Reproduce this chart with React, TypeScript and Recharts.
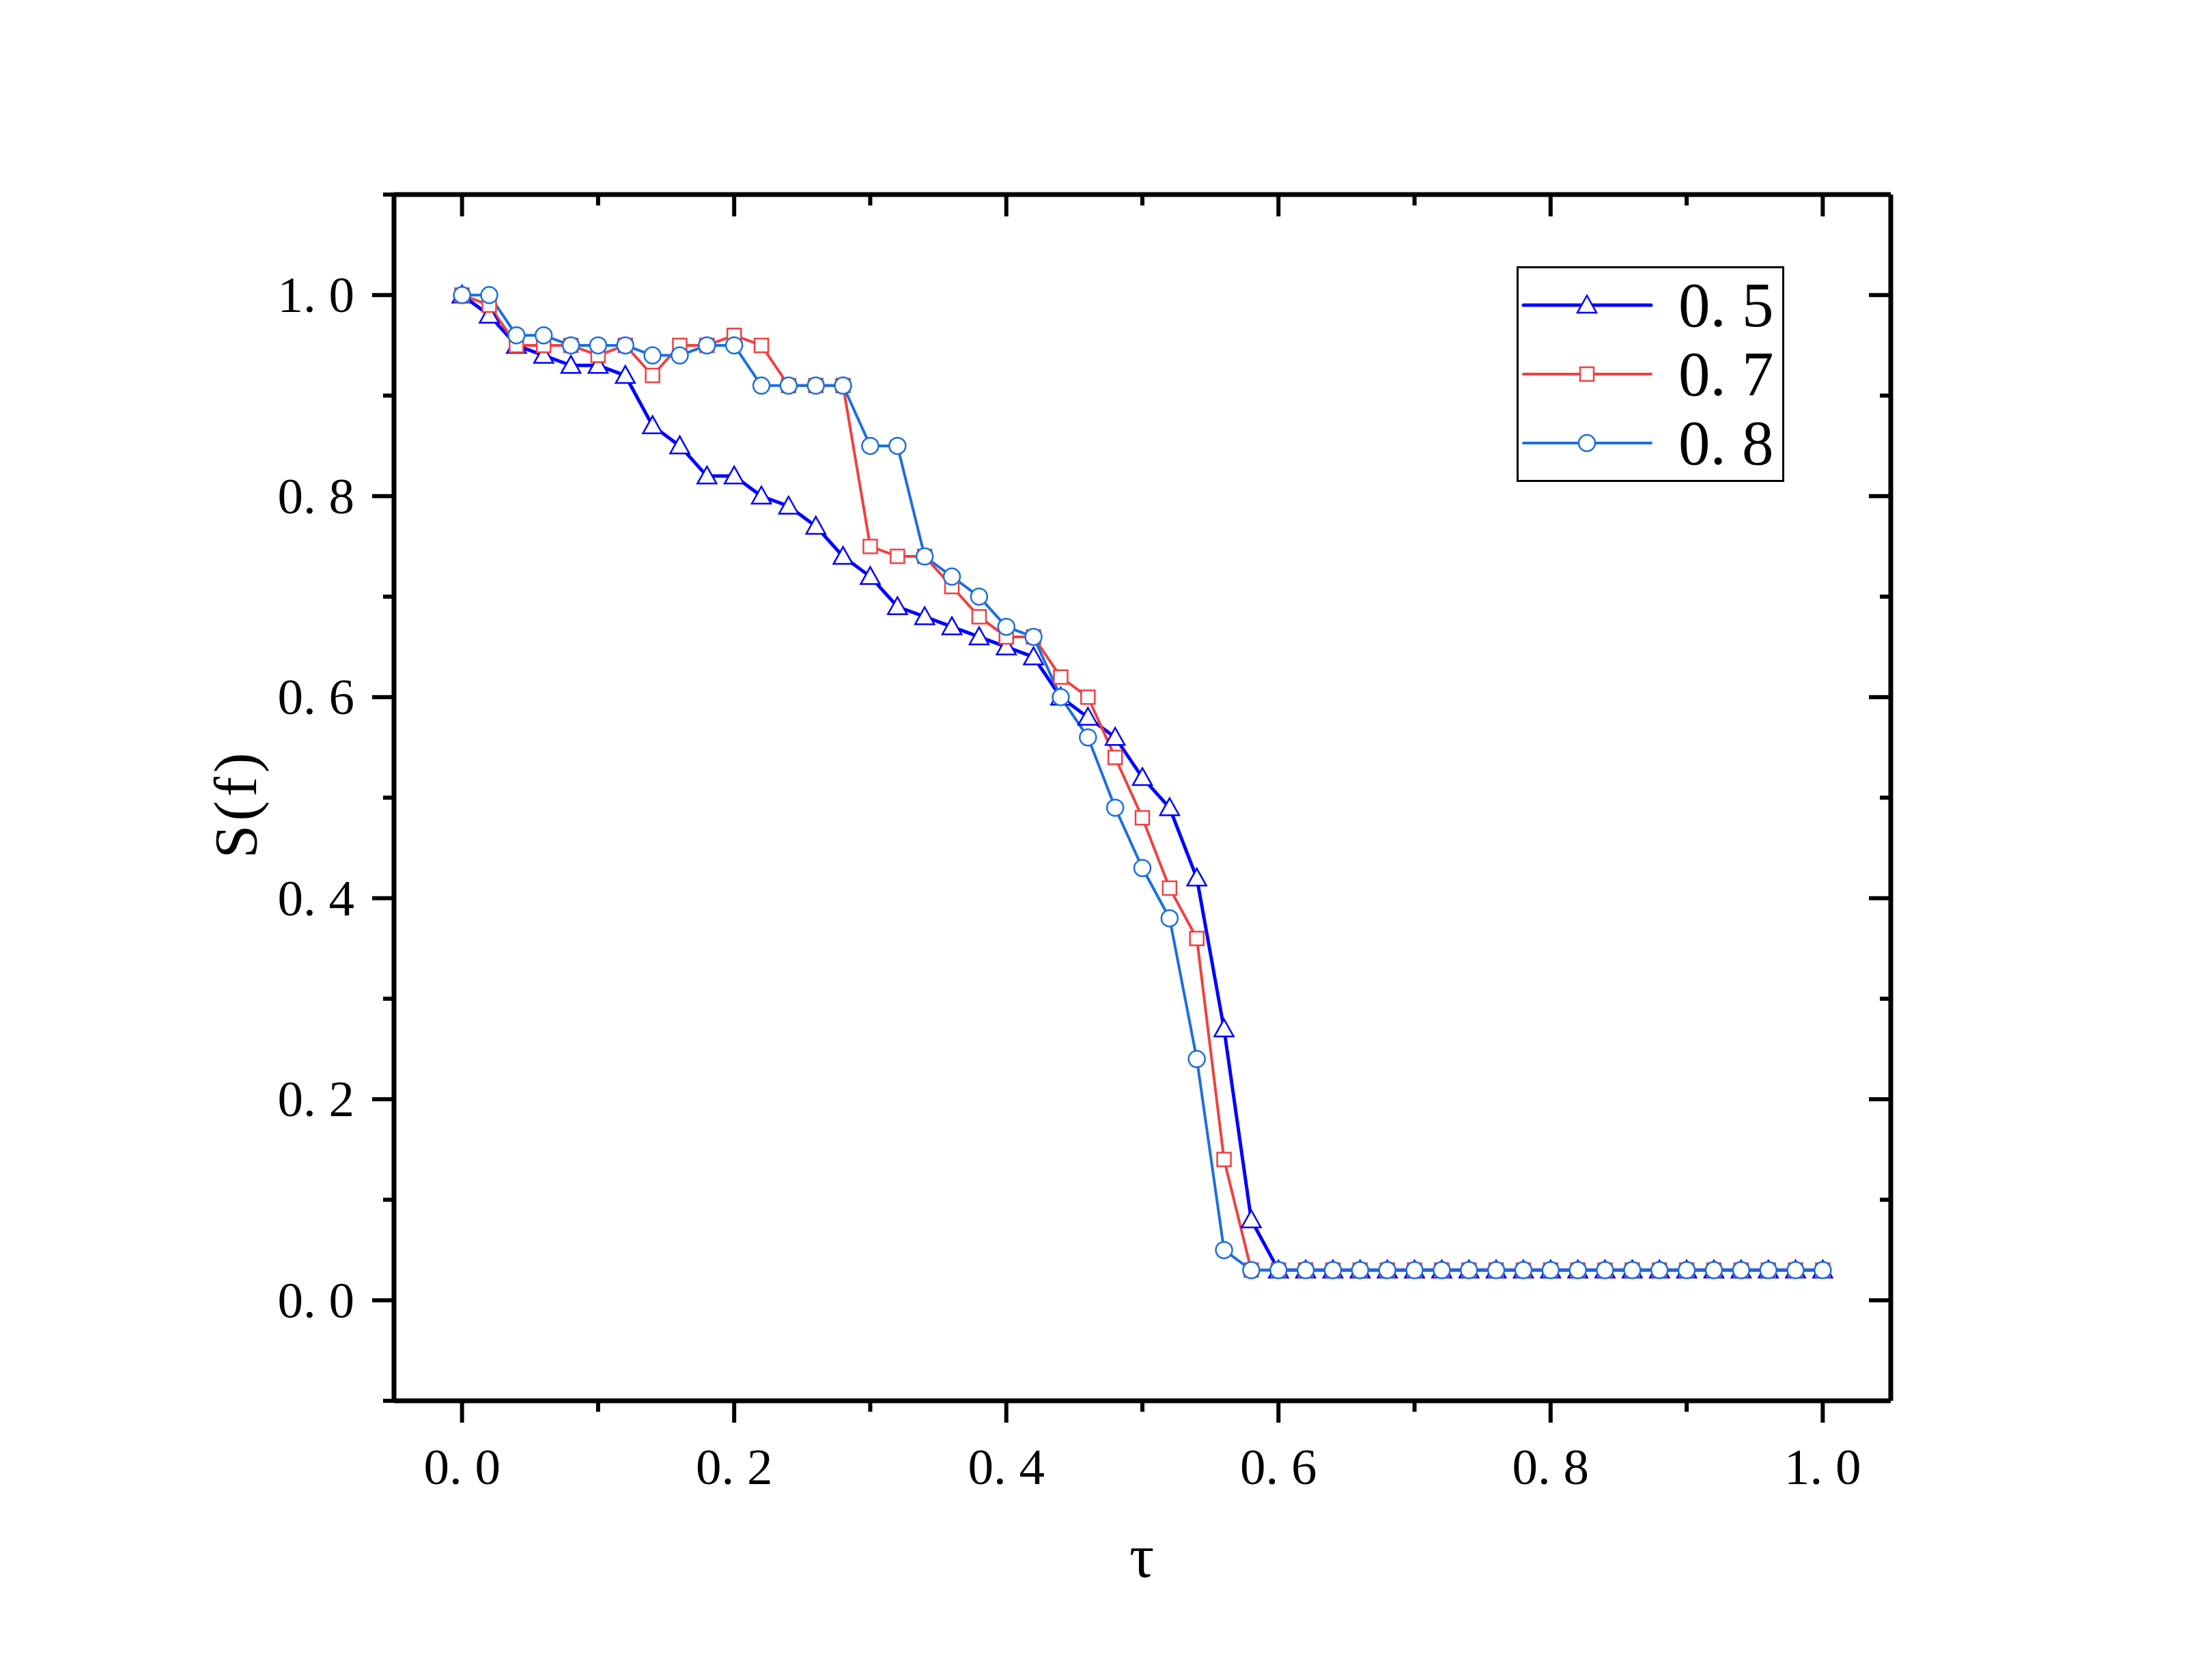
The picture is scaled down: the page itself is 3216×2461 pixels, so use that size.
import React from "react";
import { LineChart, Line, XAxis, YAxis } from "recharts";

// tau values (x)
const tau = [
  0, 0.02, 0.04, 0.06, 0.08, 0.1, 0.12, 0.14, 0.16, 0.18, 0.2, 0.22, 0.24, 0.26, 0.28, 0.3, 0.32,
  0.34, 0.36, 0.38, 0.4, 0.42, 0.44, 0.46, 0.48, 0.5, 0.52, 0.54, 0.56, 0.58, 0.6, 0.62, 0.64,
  0.66, 0.68, 0.7, 0.72, 0.74, 0.76, 0.78, 0.8, 0.82, 0.84, 0.86, 0.88, 0.9, 0.92, 0.94, 0.96,
  0.98, 1.0,
];

// S(f) for each series
const s05 = [
  1.0, 0.98, 0.95, 0.94, 0.93, 0.93, 0.92, 0.87, 0.85, 0.82, 0.82, 0.8, 0.79, 0.77, 0.74, 0.72, 0.69,
  0.68, 0.67, 0.66, 0.65, 0.64, 0.6, 0.58, 0.56, 0.52, 0.49, 0.42, 0.27, 0.08, 0.03, 0.03, 0.03,
  0.03, 0.03, 0.03, 0.03, 0.03, 0.03, 0.03, 0.03, 0.03, 0.03, 0.03, 0.03, 0.03, 0.03, 0.03, 0.03,
  0.03, 0.03,
];
const s07 = [
  1.0, 0.99, 0.95, 0.95, 0.95, 0.94, 0.95, 0.92, 0.95, 0.95, 0.96, 0.95, 0.91, 0.91, 0.91, 0.75, 0.74,
  0.74, 0.71, 0.68, 0.66, 0.66, 0.62, 0.6, 0.54, 0.48, 0.41, 0.36, 0.14, 0.03, 0.03, 0.03, 0.03,
  0.03, 0.03, 0.03, 0.03, 0.03, 0.03, 0.03, 0.03, 0.03, 0.03, 0.03, 0.03, 0.03, 0.03, 0.03, 0.03,
  0.03, 0.03,
];
const s08 = [
  1.0, 1.0, 0.96, 0.96, 0.95, 0.95, 0.95, 0.94, 0.94, 0.95, 0.95, 0.91, 0.91, 0.91, 0.91, 0.85, 0.85,
  0.74, 0.72, 0.7, 0.67, 0.66, 0.6, 0.56, 0.49, 0.43, 0.38, 0.24, 0.05, 0.03, 0.03, 0.03, 0.03,
  0.03, 0.03, 0.03, 0.03, 0.03, 0.03, 0.03, 0.03, 0.03, 0.03, 0.03, 0.03, 0.03, 0.03, 0.03, 0.03,
  0.03, 0.03,
];

const xMajor = [0, 0.2, 0.4, 0.6, 0.8, 1.0];
const xMinor = [0.1, 0.3, 0.5, 0.7, 0.9];
const yMajor = [0, 0.2, 0.4, 0.6, 0.8, 1.0];
const yMinor = [-0.1, 0.1, 0.3, 0.5, 0.7, 0.9, 1.1];

const seriesNames = ["0.5", "0.7", "0.8"];
const seriesColors = ["#0000FF", "#F14040", "#1A6FDF"];

const data = tau.map((t, i) => ({ tau: t, a: s05[i], b: s07[i], c: s08[i] }));

const FONT = "'Liberation Serif', 'DejaVu Serif', serif";
const MAJOR = 32;
const MINOR = 16;
const TICK_W = 6;

const fmt = (v: number) => v.toFixed(1).replace(".", ". ");
const isMajor = (v: number, majors: number[]) => majors.some((m) => Math.abs(m - v) < 1e-6);

// bottom axis: ticks outward with labels
const BottomTick = (props: any) => {
  const { x, y, payload } = props;
  const major = isMajor(payload.value, xMajor);
  return (
    <g>
      <line x1={x} x2={x} y1={y} y2={y + (major ? MAJOR : MINOR)} stroke="#000" strokeWidth={TICK_W} />
      {major && (
        <text x={x} y={y + 122} textAnchor="middle" fontFamily={FONT} fontSize={75} fill="#000">
          {fmt(payload.value)}
        </text>
      )}
    </g>
  );
};

// top axis: ticks inward, no labels
const TopTick = (props: any) => {
  const { x, y, payload } = props;
  const major = isMajor(payload.value, xMajor);
  return <line x1={x} x2={x} y1={y} y2={y + (major ? MAJOR : MINOR)} stroke="#000" strokeWidth={TICK_W} />;
};

// left axis: ticks outward with labels
const LeftTick = (props: any) => {
  const { x, y, payload } = props;
  const major = isMajor(payload.value, yMajor);
  return (
    <g>
      <line x1={x} x2={x - (major ? MAJOR : MINOR)} y1={y} y2={y} stroke="#000" strokeWidth={TICK_W} />
      {major && (
        <text x={x - 58} y={y + 25} textAnchor="end" fontFamily={FONT} fontSize={75} fill="#000">
          {fmt(payload.value)}
        </text>
      )}
    </g>
  );
};

// right axis: ticks inward
const RightTick = (props: any) => {
  const { x, y, payload } = props;
  const major = isMajor(payload.value, yMajor);
  return <line x1={x} x2={x - (major ? MAJOR : MINOR)} y1={y} y2={y} stroke="#000" strokeWidth={TICK_W} />;
};

const markerPath = (shape: number, cx: number, cy: number) => {
  if (shape === 0) return `M${cx},${cy - 14} L${cx - 14},${cy + 11} L${cx + 14},${cy + 11} Z`;
  if (shape === 1) return `M${cx - 10},${cy - 10} h20 v20 h-20 Z`;
  return `M${cx - 12},${cy} a12,12 0 1,0 24,0 a12,12 0 1,0 -24,0 Z`;
};

const makeDot = (shape: number, color: string) => (props: any) => {
  const { cx, cy, index } = props;
  if (cx == null || cy == null) return <g key={`e-${index}`} />;
  return (
    <path key={`d-${shape}-${index}`} d={markerPath(shape, cx, cy)} fill="#fff" stroke={color} strokeWidth={2.5} />
  );
};

// legend drawn as an overlay so it takes no room from the plot
const LegendBox = () => (
  <div
    style={{
      position: "absolute",
      left: 2221,
      top: 390,
      width: 392,
      height: 316,
      boxSizing: "border-box",
      border: "3px solid #000",
      background: "#fff",
    }}
  >
    <svg width={386} height={310} style={{ display: "block" }}>
      {seriesNames.map((name, i) => {
        const cy = 54 + i * 101;
        return (
          <g key={name}>
            <line x1={7} x2={194} y1={cy} y2={cy} stroke={seriesColors[i]} strokeWidth={i === 0 ? 5 : 4} strokeLinecap="round" />
            <path d={markerPath(i, 100, cy)} fill="#fff" stroke={seriesColors[i]} strokeWidth={2.5} />
            <text x={234} y={cy + 31} fontFamily={FONT} fontSize={93} fill="#000">
              {fmt(Number(name))}
            </text>
          </g>
        );
      })}
    </svg>
  </div>
);

export default function App() {
  return (
    <div style={{ position: "absolute", left: 0, top: 0, width: 3216, height: 2461, background: "#fff" }}>
      <LineChart
        width={3216}
        height={2461}
        data={data}
        margin={{ top: 275, right: 437, bottom: 209, left: 327 }}
      >
        <XAxis
          xAxisId="b"
          dataKey="tau"
          type="number"
          domain={[-0.05, 1.05]}
          allowDataOverflow
          ticks={[...xMajor, ...xMinor]}
          interval={0}
          orientation="bottom"
          height={200}
          axisLine={{ stroke: "#000", strokeWidth: 7 }}
          tickLine={false}
          tickSize={0}
          tickMargin={0}
          tick={<BottomTick />}
          label={{
            content: () => (
              <text x={1672} y={2310} textAnchor="middle" fontFamily={FONT} fontSize={90} fill="#000">
                τ
              </text>
            ),
          }}
        />
        <XAxis
          xAxisId="t"
          dataKey="tau"
          type="number"
          domain={[-0.05, 1.05]}
          allowDataOverflow
          ticks={[...xMajor, ...xMinor]}
          interval={0}
          orientation="top"
          height={10}
          axisLine={{ stroke: "#000", strokeWidth: 7 }}
          tickLine={false}
          tickSize={0}
          tickMargin={0}
          tick={<TopTick />}
        />
        <YAxis
          yAxisId="l"
          type="number"
          domain={[-0.1, 1.1]}
          allowDataOverflow
          ticks={[...yMajor, ...yMinor]}
          interval={0}
          orientation="left"
          width={250}
          axisLine={{ stroke: "#000", strokeWidth: 7 }}
          tickLine={false}
          tickSize={0}
          tickMargin={0}
          tick={<LeftTick />}
          label={{
            content: () => (
              <text
                x={345}
                y={1177}
                transform="rotate(-90 345 1177)"
                textAnchor="middle"
                dominantBaseline="central"
                fontFamily={FONT}
                fontSize={88}
                letterSpacing={6}
                fill="#000"
              >
                S(f)
              </text>
            ),
          }}
        />
        <YAxis
          yAxisId="r"
          type="number"
          domain={[-0.1, 1.1]}
          allowDataOverflow
          ticks={[...yMajor, ...yMinor]}
          interval={0}
          orientation="right"
          width={10}
          axisLine={{ stroke: "#000", strokeWidth: 7 }}
          tickLine={false}
          tickSize={0}
          tickMargin={0}
          tick={<RightTick />}
        />
        <Line
          xAxisId="b"
          yAxisId="l"
          dataKey="a"
          name={seriesNames[0]}
          stroke={seriesColors[0]}
          strokeWidth={5}
          dot={makeDot(0, seriesColors[0])}
          isAnimationActive={false}
        />
        <Line
          xAxisId="b"
          yAxisId="l"
          dataKey="b"
          name={seriesNames[1]}
          stroke={seriesColors[1]}
          strokeWidth={4}
          dot={makeDot(1, seriesColors[1])}
          isAnimationActive={false}
        />
        <Line
          xAxisId="b"
          yAxisId="l"
          dataKey="c"
          name={seriesNames[2]}
          stroke={seriesColors[2]}
          strokeWidth={4}
          dot={makeDot(2, seriesColors[2])}
          isAnimationActive={false}
        />
      </LineChart>
      <LegendBox />
    </div>
  );
}
